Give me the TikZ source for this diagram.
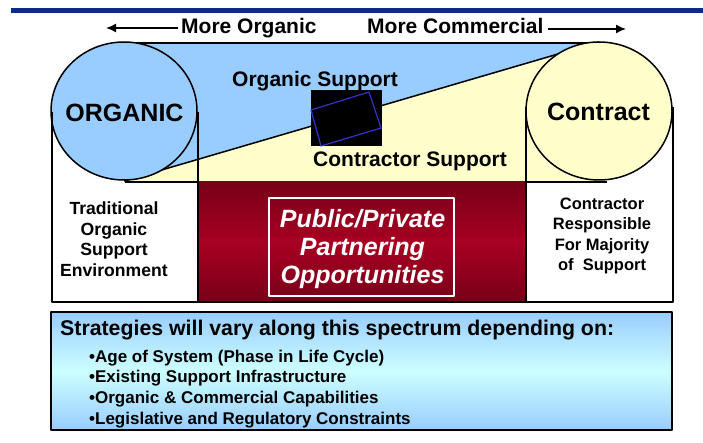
\documentclass[tikz,border=0pt]{standalone}
\usepackage{fontspec}
\setmainfont{Liberation Sans}
\usetikzlibrary{shapes.geometric,arrows.meta}
\definecolor{navy}{RGB}{14,42,135}
\definecolor{lblue}{RGB}{153,204,255}
\definecolor{lyellow}{RGB}{255,255,204}
\definecolor{lcyan}{RGB}{204,255,255}
\definecolor{maroonD}{RGB}{120,0,24}
\definecolor{maroonL}{RGB}{168,0,34}
\definecolor{rectblue}{RGB}{51,51,204}
\begin{document}
\begin{tikzpicture}[x=1pt,y=-1pt,line join=round,
  lw/.style={line width=1.5pt},
  arr/.style={line width=1.5pt,-{Latex[length=10pt,width=9pt]}},
  toplbl/.style={inner sep=0pt,font=\bfseries\fontsize{21}{25}\selectfont},
  biglbl/.style={inner sep=0pt,font=\bfseries\fontsize{25}{30}\selectfont},
  midlbl/.style={inner sep=0pt,font=\bfseries\fontsize{21}{25}\selectfont},
  smlbl/.style={inner sep=0pt,align=center,font=\bfseries\fontsize{16.5}{20.2}\selectfont},
  lftlbl/.style={inner sep=0pt,align=center,font=\bfseries\fontsize{17.6}{20.7}\selectfont},
  publbl/.style={inner sep=0pt,align=center,text=white,font=\bfseries\itshape\fontsize{25}{28}\selectfont},
  headlbl/.style={inner sep=0pt,font=\bfseries\fontsize{21.3}{25}\selectfont},
  bullbl/.style={inner sep=0pt,font=\bfseries\fontsize{17}{20}\selectfont},
  circ/.style={ellipse,draw,lw,minimum width=146pt,minimum height=138pt,inner sep=0pt}]
\useasboundingbox (0,0) rectangle (703,443);
\fill[white] (0,0) rectangle (703,443);
% top bar
\fill[navy] (11,8) rectangle (703,13);
% top labels and arrows
\node[toplbl,anchor=base west] (morg) at (181,34) {More Organic};
\node[toplbl,anchor=base west] (mcom) at (367,34) {More Commercial};
\coordinate (larr) at (106,28);
\coordinate (rarr) at (626,29);
\draw[arr] (morg.west |- larr) ++(-3,0) -- (larr);
\draw[arr] (mcom.east |- rarr) ++(4,0) -- (rarr);
% band
\fill[lblue] (124,43) -- (600,43) -- (124,181) -- cycle;
\fill[lyellow] (124,181) -- (600,43) -- (600,182) -- (124,182) -- cycle;
\draw[lw] (122,43) -- (602,43);
\draw[lw] (125,182) -- (607,182);
\draw[lw] (124,181) -- (599,42);
% black box
\fill[black] (311,90) rectangle (382,146);
\draw[rectblue,line width=1.2pt] (311,110) -- (369,92) -- (381,128) -- (321,146) -- cycle;
\node[midlbl,anchor=base west] (osup) at (232,87) {Organic Support};
\node[midlbl,anchor=base west] (csup) at (313,167) {Contractor Support};
% lower boxes
\shade[top color=maroonD,bottom color=maroonD,middle color=maroonL] (198,182) rectangle (526,302);
\draw[white,line width=1.2pt] (269,198) rectangle (454,296);
% circles
\node[circ,fill=lblue] (orgc) at (124,111) {};
\node[circ,fill=lyellow] (conc) at (599,111) {};
\node[biglbl,anchor=base] (orgt) at (124.5,122) {ORGANIC};
\node[biglbl,anchor=base] (cont) at (598.5,121) {Contract};
% frame lines
\draw[lw] (52,112) -- (52,302) -- (673,302) -- (673,107);
\draw[lw] (198,112) -- (198,302);
\draw[lw] (526,107) -- (526,302);
% lower texts
\node[lftlbl,anchor=north] (trad) at (114,201.5) {Traditional\\Organic\\Support\\Environment};
\node[smlbl,anchor=north] (cresp) at (602,198) {Contractor\\Responsible\\For Majority\\of~ Support};
\node[publbl,anchor=north] (ppp) at (362.5,209.5) {Public/Private\\Partnering\\Opportunities};
% strategies box
\shade[top color=lblue,bottom color=lblue,middle color=lcyan] (51,312) rectangle (672,430);
\draw[lw] (51,312) rectangle (672,430);
\node[headlbl,anchor=base west] (strat) at (60,335) {Strategies will vary along this spectrum depending on:};
\node[bullbl,anchor=base west] (b1) at (89,362) {•Age of System (Phase in Life Cycle)};
\node[bullbl,anchor=base west] (b2) at (89,382) {•Existing Support Infrastructure};
\node[bullbl,anchor=base west] (b3) at (89,403.5) {•Organic \& Commercial Capabilities};
\node[bullbl,anchor=base west] (b4) at (89,424) {•Legislative and Regulatory Constraints};
\end{tikzpicture}
\end{document}
